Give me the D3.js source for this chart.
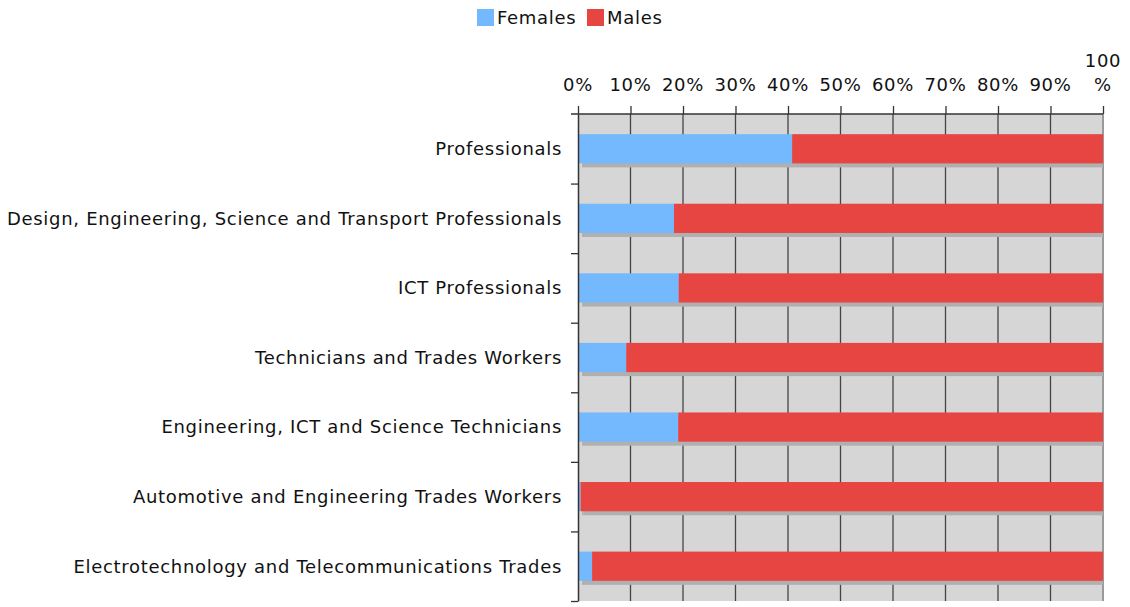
<!DOCTYPE html>
<html>
<head>
<meta charset="utf-8">
<script src="https://cdn.jsdelivr.net/npm/d3@7"></script>
<style>
  body { margin: 0; background: #fff; }
  svg { display: block; font-family: "DejaVu Sans", Verdana, sans-serif; letter-spacing: 0.7px; }
</style>
</head>
<body>
<svg id="chart" width="1130" height="607"></svg>
<script>
// data
const categories = [
  "Professionals",
  "Design, Engineering, Science and Transport Professionals",
  "ICT Professionals",
  "Technicians and Trades Workers",
  "Engineering, ICT and Science Technicians",
  "Automotive and Engineering Trades Workers",
  "Electrotechnology and Telecommunications Trades"
];
const females = [40.6, 18.1, 19.0, 9.0, 18.9, 0.3, 2.5];
const males = [59.4, 81.9, 81.0, 91.0, 81.1, 99.7, 97.5];
const seriesNames = ["Females", "Males"];
const seriesColors = ["#74b8fe", "#e64541"];
const xTicks = [0, 10, 20, 30, 40, 50, 60, 70, 80, 90, 100];

const svg = d3.select("#chart");
const plotL = 578, plotR = 1103, plotT = 114, plotB = 601;
const fs = 18;

const x = d3.scaleLinear().domain([0, 100]).range([plotL, plotR]);
const y = d3.scaleBand().domain(categories).range([plotT, plotB]).paddingInner(0.58).paddingOuter(0.29);

// background
svg.append("rect")
  .attr("x", plotL).attr("y", plotT)
  .attr("width", plotR - plotL).attr("height", plotB - plotT)
  .attr("fill", "#d6d6d6");

// vertical grid
svg.append("g").selectAll("line")
  .data(xTicks.slice(1, -1))
  .enter().append("line")
    .attr("x1", d => x(d)).attr("x2", d => x(d))
    .attr("y1", plotT).attr("y2", plotB)
    .attr("stroke", "#444").attr("stroke-width", 1.3);
svg.append("line")
  .attr("x1", plotR).attr("x2", plotR).attr("y1", plotT).attr("y2", plotB)
  .attr("stroke", "#9a9a9a").attr("stroke-width", 2);

// stacked bars
const stack = d3.stack().keys([0, 1]).value((d, k) => k === 0 ? females[d] : males[d]);
const layers = stack(d3.range(categories.length));

const shadows = svg.append("g");
const bars = svg.append("g");
layers.forEach((layer, k) => {
  shadows.selectAll(null)
    .data(layer)
    .enter().append("rect")
      .attr("x", d => x(d[0]) + 4)
      .attr("y", (d, i) => y(categories[i]) + 4)
      .attr("width", d => Math.max(0, Math.min(x(d[1]) + 4, plotR) - x(d[0]) - 4))
      .attr("height", y.bandwidth())
      .attr("fill", "#b0b0b0");
});
layers.forEach((layer, k) => {
  bars.selectAll(null)
    .data(layer)
    .enter().append("rect")
      .attr("x", d => x(d[0]) + 1)
      .attr("y", (d, i) => y(categories[i]))
      .attr("width", d => Math.max(0, x(d[1]) - x(d[0]) - (k === 1 ? 1 : 0)))
      .attr("height", y.bandwidth())
      .attr("fill", seriesColors[k]);
});

// top axis
const xAxis = svg.append("g")
  .attr("transform", `translate(0,${plotT})`)
  .call(d3.axisTop(x).tickValues(xTicks).tickSize(8).tickSizeOuter(0).tickFormat(""));
xAxis.select(".domain").remove();
xAxis.selectAll(".tick line").attr("stroke", "#333").attr("stroke-width", 1.3);
svg.append("line")
  .attr("x1", plotL - 7).attr("x2", plotR).attr("y1", plotT).attr("y2", plotT)
  .attr("stroke", "#333").attr("stroke-width", 1.5);

const xLabels = svg.append("g").attr("font-size", fs).attr("fill", "#111").attr("text-anchor", "middle");
xTicks.forEach(t => {
  const txt = xLabels.append("text").attr("x", x(t));
  if (t === 100) {
    txt.append("tspan").attr("x", x(t)).attr("y", 67).text("100");
    txt.append("tspan").attr("x", x(t)).attr("y", 91).text("%");
  } else {
    txt.attr("y", 91).text(t + "%");
  }
});

// left axis with ticks between categories
const yb = d3.scaleLinear().domain([0, categories.length]).range([plotT, plotB]);
const yAxis = svg.append("g")
  .attr("transform", `translate(${plotL},0)`)
  .call(d3.axisLeft(yb).tickValues(d3.range(1, categories.length + 1)).tickSize(7).tickSizeOuter(0).tickFormat(""));
yAxis.select(".domain").attr("stroke", "#333").attr("stroke-width", 1.5);
yAxis.selectAll(".tick line").attr("stroke", "#333").attr("stroke-width", 1.3);

svg.append("g").attr("font-size", fs).attr("fill", "#111").attr("text-anchor", "end")
  .selectAll("text")
  .data(categories)
  .enter().append("text")
    .attr("x", plotL - 16)
    .attr("y", d => y(d) + y.bandwidth() / 2)
    .attr("dy", "0.35em")
    .text(d => d);

// legend
const legend = svg.append("g").attr("font-size", fs).attr("fill", "#111");
const legendX = [477, 587];
seriesNames.forEach((name, i) => {
  legend.append("rect")
    .attr("x", legendX[i]).attr("y", 9).attr("width", 17).attr("height", 17)
    .attr("fill", seriesColors[i]);
  legend.append("text")
    .attr("x", legendX[i] + 20).attr("y", 24)
    .text(name);
});
</script>
</body>
</html>
